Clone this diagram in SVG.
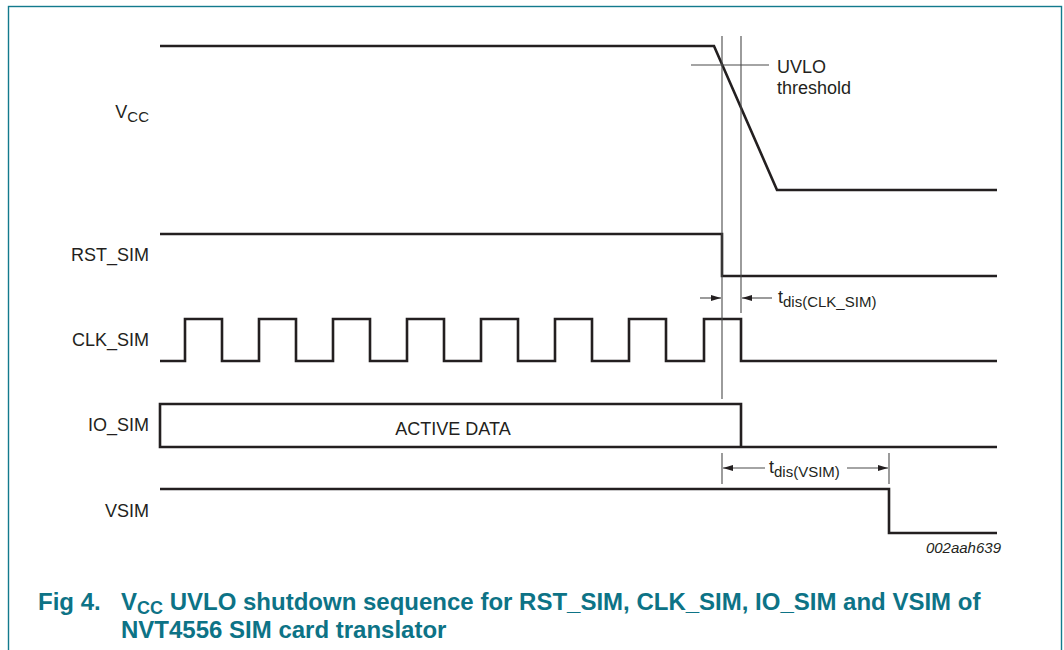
<svg xmlns="http://www.w3.org/2000/svg" width="1064" height="650" viewBox="0 0 1064 650">
  <style>
    .sig { fill: none; stroke: #231f20; stroke-width: 2.6; stroke-linejoin: miter; }
    .thin { fill: none; stroke: #4a4a4a; stroke-width: 1.1; }
    .lbl { font-family: "Liberation Sans", Arial, sans-serif; font-size: 18px; fill: #231f20; }
    .sub { font-size: 15px; }
    .cap { font-family: "Liberation Sans", Arial, sans-serif; font-weight: bold; font-size: 24px; fill: #0d7386; }
    .ref { font-family: "Liberation Sans", Arial, sans-serif; font-style: italic; font-size: 15px; fill: #231f20; }
  </style>
  <defs>
    <marker id="arrow" viewBox="0 0 10 6" refX="10" refY="3" markerWidth="10" markerHeight="6" markerUnits="userSpaceOnUse" orient="auto">
      <path d="M0,0 L10,3 L0,6 Z" fill="#231f20"/>
    </marker>
  </defs>

  <rect x="0" y="0" width="1064" height="650" fill="#ffffff"/>
  <!-- frame -->
  <rect x="8.5" y="6.5" width="1053" height="700" fill="none" stroke="#137a8d" stroke-width="1.4"/>

  <!-- signal labels -->
  <g id="label-vcc"><text class="lbl" x="149" y="118" text-anchor="end">V<tspan class="sub" dy="4">CC</tspan></text></g>
  <g id="label-rst"><text class="lbl" x="149" y="261" text-anchor="end">RST_SIM</text></g>
  <g id="label-clk"><text class="lbl" x="149" y="346" text-anchor="end">CLK_SIM</text></g>
  <g id="label-io"><text class="lbl" x="149" y="431" text-anchor="end">IO_SIM</text></g>
  <g id="label-vsim"><text class="lbl" x="149" y="517" text-anchor="end">VSIM</text></g>

  <!-- waveforms -->
  <g id="wave-vcc"><polyline class="sig" points="160,46 714,46 777,190 997,190"/></g>
  <g id="wave-rst"><polyline class="sig" points="160,234 722,234 722,276 997,276"/></g>
  <g id="wave-clk"><polyline class="sig" points="160,361 185,361 185,319 222,319 222,361 259,361 259,319 296,319 296,361 333,361 333,319 370,319 370,361 407,361 407,319 444,319 444,361 481,361 481,319 518,319 518,361 555,361 555,319 592,319 592,361 629,361 629,319 666,319 666,361 704,361 704,319 741,319 741,361 997,361"/></g>
  <g id="wave-io">
    <polyline class="sig" points="741,447 160,447 160,404 741,404 741,447 997,447"/>
    <text class="lbl" x="453" y="435" text-anchor="middle">ACTIVE DATA</text>
  </g>
  <g id="wave-vsim"><polyline class="sig" points="160,489 889,489 889,533 997,533"/></g>

  <!-- timing references and dimension arrows -->
  <g id="connectors">
    <line class="thin" x1="722" y1="36" x2="722" y2="399"/>
    <line class="thin" x1="741" y1="36" x2="741" y2="313"/>
    <line class="thin" x1="691" y1="65" x2="769" y2="65"/>
    <line class="thin" x1="700" y1="298" x2="721" y2="298" marker-end="url(#arrow)"/>
    <line class="thin" x1="772" y1="298" x2="742" y2="298" marker-end="url(#arrow)"/>
    <line class="thin" x1="722" y1="453" x2="722" y2="484"/>
    <line class="thin" x1="889" y1="453" x2="889" y2="484"/>
    <line class="thin" x1="765" y1="468" x2="723" y2="468" marker-end="url(#arrow)"/>
    <line class="thin" x1="847" y1="468" x2="888" y2="468" marker-end="url(#arrow)"/>
  </g>

  <g id="uvlo-label">
    <text class="lbl" x="777" y="73">UVLO</text>
    <text class="lbl" x="777" y="94">threshold</text>
  </g>
  <g id="tdis-clk-label"><text class="lbl" x="778" y="303">t<tspan class="sub" dy="4">dis(CLK_SIM)</tspan></text></g>
  <g id="tdis-vsim-label"><text class="lbl" x="769" y="473">t<tspan class="sub" dy="4">dis(VSIM)</tspan></text></g>

  <text class="ref" x="1001" y="553" text-anchor="end">002aah639</text>

  <!-- caption -->
  <g id="caption">
    <text class="cap" x="38" y="610">Fig 4.</text>
    <text class="cap" x="121" y="610">V<tspan font-size="18" dy="4">CC</tspan><tspan dy="-4"> UVLO shutdown sequence for RST_SIM, CLK_SIM, IO_SIM and VSIM of</tspan></text>
    <text class="cap" x="121" y="638">NVT4556 SIM card translator</text>
  </g>
</svg>
